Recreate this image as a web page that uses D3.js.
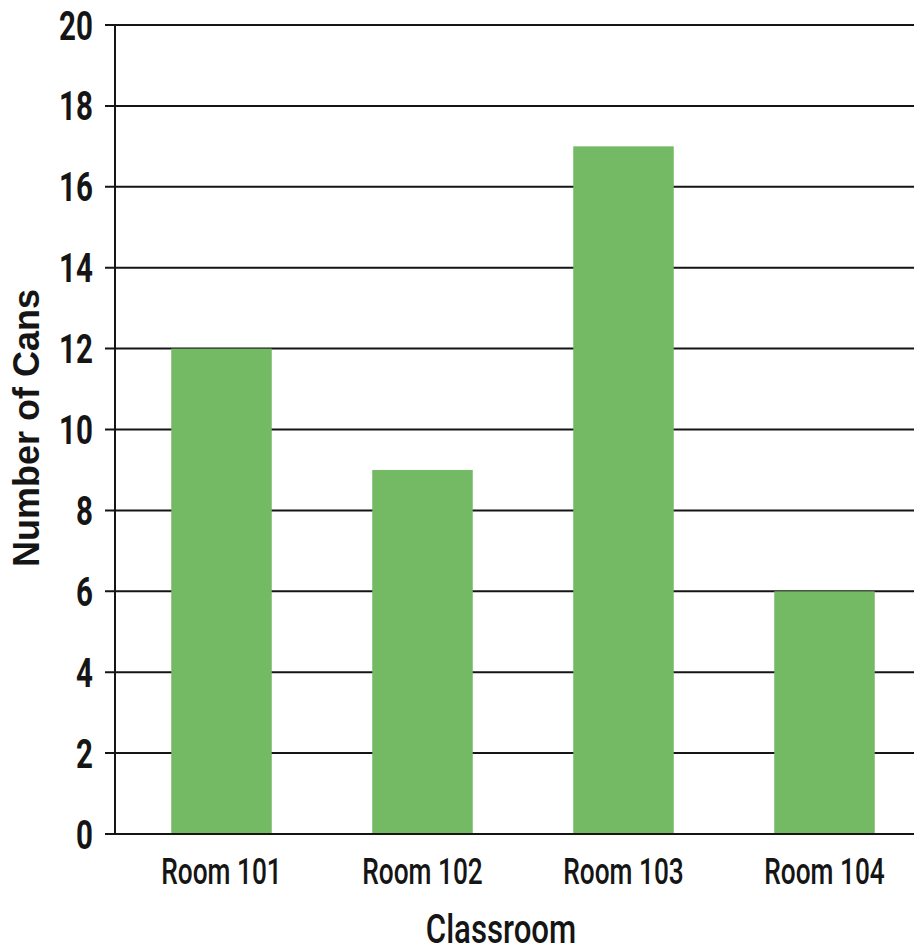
<!DOCTYPE html>
<html>
<head>
<meta charset="utf-8">
<script src="https://cdn.jsdelivr.net/npm/d3@7"></script>
<style>
  html, body { margin: 0; padding: 0; background: #fff; }
  svg { display: block; }
</style>
</head>
<body>
<svg id="chart" width="914" height="952"></svg>
<script>
// Cans collected per classroom
const rooms = ["Room 101", "Room 102", "Room 103", "Room 104"];
const cans = [12, 9, 17, 6];
const yTicks = [0, 2, 4, 6, 8, 10, 12, 14, 16, 18, 20];

const svg = d3.select("#chart");
const W = 914;
const plot = { left: 115, top: 25, bottom: 834 };
const ink = "#151515";
const narrow = "Roboto, 'Noto Sans', sans-serif";

const x = d3.scaleBand()
  .domain(rooms)
  .range([121, 925])
  .paddingInner(0.5)
  .paddingOuter(0.25);

const y = d3.scaleLinear()
  .domain([0, 20])
  .range([plot.bottom, plot.top]);

// horizontal gridlines with short ticks left of the axis
svg.append("g")
  .selectAll("line")
  .data(yTicks)
  .join("line")
  .attr("x1", plot.left - 10)
  .attr("x2", W)
  .attr("y1", d => y(d))
  .attr("y2", d => y(d))
  .attr("stroke", ink)
  .attr("stroke-width", 2);

// bars
svg.append("g")
  .selectAll("rect")
  .data(rooms.map((r, i) => ({ room: r, value: cans[i] })))
  .join("rect")
  .attr("x", d => x(d.room))
  .attr("width", x.bandwidth())
  .attr("y", d => y(d.value))
  .attr("height", d => y(0) - y(d.value))
  .attr("fill", "#74b963");

// baseline over the bars
svg.append("line")
  .attr("x1", plot.left - 10).attr("x2", W)
  .attr("y1", y(0)).attr("y2", y(0))
  .attr("stroke", ink).attr("stroke-width", 2);

// vertical axis line
svg.append("line")
  .attr("x1", plot.left).attr("x2", plot.left)
  .attr("y1", y(20)).attr("y2", y(0))
  .attr("stroke", ink).attr("stroke-width", 2);

// y tick labels (condensed by horizontal scaling)
svg.append("g")
  .selectAll("text")
  .data(yTicks)
  .join("text")
  .attr("transform", d => `translate(93,${y(d) + 14.5}) scale(0.72,1)`)
  .attr("text-anchor", "end")
  .attr("font-family", narrow)
  .attr("font-weight", "bold")
  .attr("font-size", 41)
  .attr("fill", ink)
  .text(d => d);

// x tick labels
svg.append("g")
  .selectAll("text")
  .data(rooms)
  .join("text")
  .attr("transform", d => `translate(${x(d) + x.bandwidth() / 2},884) scale(0.72,1)`)
  .attr("text-anchor", "middle")
  .attr("font-family", narrow)
  .attr("font-weight", 500)
  .attr("font-size", 36.5)
  .attr("fill", ink)
  .text(d => d);

// axis titles
svg.append("text")
  .attr("transform", "translate(501,943) scale(0.78,1)")
  .attr("text-anchor", "middle")
  .attr("font-family", narrow)
  .attr("font-weight", 500)
  .attr("font-size", 40)
  .attr("fill", ink)
  .text("Classroom");

svg.append("text")
  .attr("transform", "translate(39,428) rotate(-90)")
  .attr("text-anchor", "middle")
  .attr("font-family", "'Liberation Sans', Arial, sans-serif")
  .attr("font-weight", "bold")
  .attr("font-size", 36)
  .attr("fill", ink)
  .text("Number of Cans");
</script>
</body>
</html>
